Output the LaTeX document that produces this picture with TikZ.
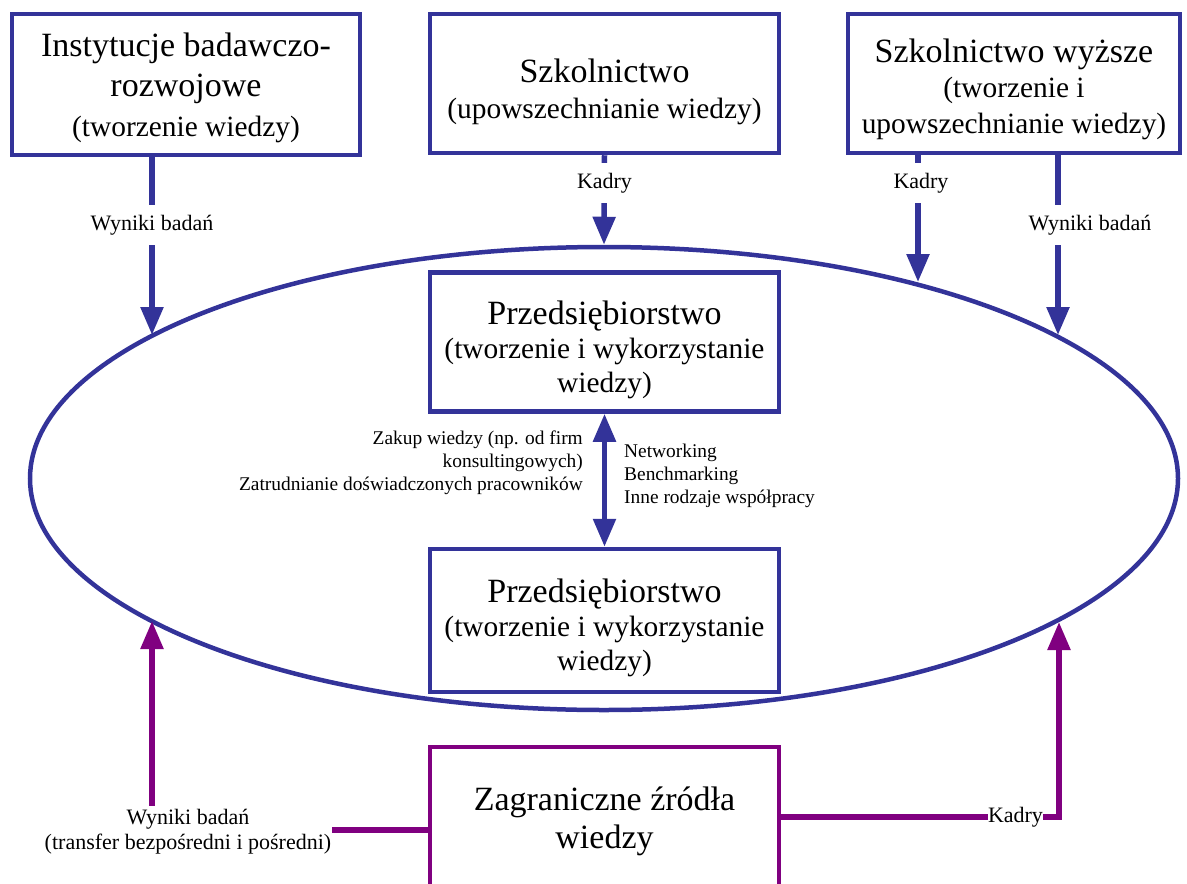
\documentclass[tikz,border=0pt]{standalone}
\usepackage{fontspec}
\setmainfont{Liberation Serif}
\usetikzlibrary{arrows.meta,shapes.geometric}
\definecolor{flowblue}{RGB}{51,51,153}
\definecolor{flowpurple}{RGB}{128,0,128}
\newcommand\boxmain{\fontsize{34}{40}\selectfont}
\newcommand\boxsub{\fontsize{29.4}{38}\selectfont}
\begin{document}
\begin{tikzpicture}[x=1pt,y=-1pt,
  unitbox/.style={draw=flowblue, line width=4.5pt, inner sep=0pt},
  foreignbox/.style={unitbox, draw=flowpurple},
  boxtext/.style={inner sep=0pt, align=center, font=\boxmain},
  flow/.style={draw=flowblue, line width=5.5pt, -{Triangle[width=22pt,length=28pt]}},
  flowin/.style={flow, draw=flowpurple},
  both/.style={draw=flowblue, line width=5.5pt, {Triangle[width=22pt,length=28pt]}-{Triangle[width=22pt,length=28pt]}},
  flowlabel/.style={fill=white, inner xsep=3pt, inner ysep=10pt, font=\fontsize{22}{25}\selectfont},
  notelabel/.style={inner sep=0pt, font=\fontsize{19.4}{23}\selectfont}
]
\useasboundingbox (0,0) rectangle (1187,884);

% knowledge economy of the enterprise
\node[ellipse, draw=flowblue, line width=4.5pt, inner sep=0pt,
      minimum width=1148pt, minimum height=463pt] (ring) at (604,478.5) {};

% sources of knowledge at the top
\node[unitbox, minimum width=348pt, minimum height=141pt] (inst) at (186,84.5) {};
\node[boxtext, yshift=-3pt] (instText) at (inst.center)
  {Instytucje badawczo-\\rozwojowe\\{\boxsub (tworzenie wiedzy)}};
\node[unitbox, minimum width=349pt, minimum height=139pt] (school) at (604.5,83.5) {};
\node[boxtext, yshift=-8pt] (schoolText) at (school.center)
  {Szkolnictwo\\[-4pt]{\boxsub (upowszechnianie wiedzy)}};
\node[unitbox, minimum width=332pt, minimum height=139pt] (univ) at (1014,83.5) {};
\node[boxtext, yshift=-6pt] (univText) at (univ.center)
  {Szkolnictwo wyższe\\[-5pt]{\boxsub (tworzenie i}\\[-4pt]{\boxsub upowszechnianie wiedzy)}};

% enterprises inside the ring
\node[unitbox, minimum width=349pt, minimum height=139pt] (firmA) at (604.5,342) {};
\node[boxtext, yshift=-8pt] (firmAText) at (firmA.center)
  {Przedsiębiorstwo\\[-6pt]{\boxsub (tworzenie i wykorzystanie}\\[-6pt]{\boxsub wiedzy)}};
\node[unitbox, minimum width=349pt, minimum height=143pt] (firmB) at (604.5,620.5) {};
\node[boxtext, yshift=-7pt] (firmBText) at (firmB.center)
  {Przedsiębiorstwo\\[-6pt]{\boxsub (tworzenie i wykorzystanie}\\[-6pt]{\boxsub wiedzy)}};

% foreign sources, running off the lower edge
\node[foreignbox, minimum width=349pt, minimum height=150pt] (abroad) at (604.5,822) {};
\node[boxtext] (abroadText) at (604.5,821)
  {Zagraniczne źródła\\[-2pt]wiedzy};

% points where the flows meet the ring
\coordinate (hitInst)  at (152,335);
\coordinate (hitUnivK) at (918,282);
\coordinate (hitUnivW) at (1058,335);
\coordinate (hitLeft)  at (152,621);
\coordinate (hitRight) at (1059,622);
\coordinate (cornerL)  at (152,830);
\coordinate (cornerR)  at (1059,817);

% flows into the ring from the top
\draw[flow] (inst.south -| hitInst) -- (hitInst);
\node[flowlabel] (lInst) at (152,225) {Wyniki badań};
\draw[flow] (school.south) -- (ring.north);
\node[flowlabel] (lSchool) at (604.5,183) {Kadry};
\draw[flow] (univ.south -| hitUnivK) -- (hitUnivK);
\node[flowlabel] (lUnivK) at (921,183) {Kadry};
\draw[flow] (univ.south -| hitUnivW) -- (hitUnivW);
\node[flowlabel] (lUnivW) at (1090,225) {Wyniki badań};

% exchange between enterprises
\draw[both] (firmA.south) -- (firmB.north);
\node[notelabel, anchor=east, align=right] (buy) at (583,462.5)
  {Zakup wiedzy (np. od firm\\konsultingowych)\\Zatrudnianie doświadczonych pracowników};
\node[notelabel, anchor=west, align=left] (coop) at (624,476)
  {Networking\\Benchmarking\\Inne rodzaje współpracy};

% flows from abroad
\draw[flowin] (abroad.west |- cornerL) -- (cornerL) -- (hitLeft);
\node[flowlabel, align=center, inner xsep=1pt, inner ysep=3pt] (lAbroadW) at (188,831.5)
  {Wyniki badań\\(transfer bezpośredni i pośredni)};
\draw[flowin] (abroad.east |- cornerR) -- (cornerR) -- (hitRight);
\node[flowlabel, inner xsep=0pt, inner ysep=1pt] (lAbroadK) at (1015.5,817) {Kadry};
\end{tikzpicture}
\end{document}
